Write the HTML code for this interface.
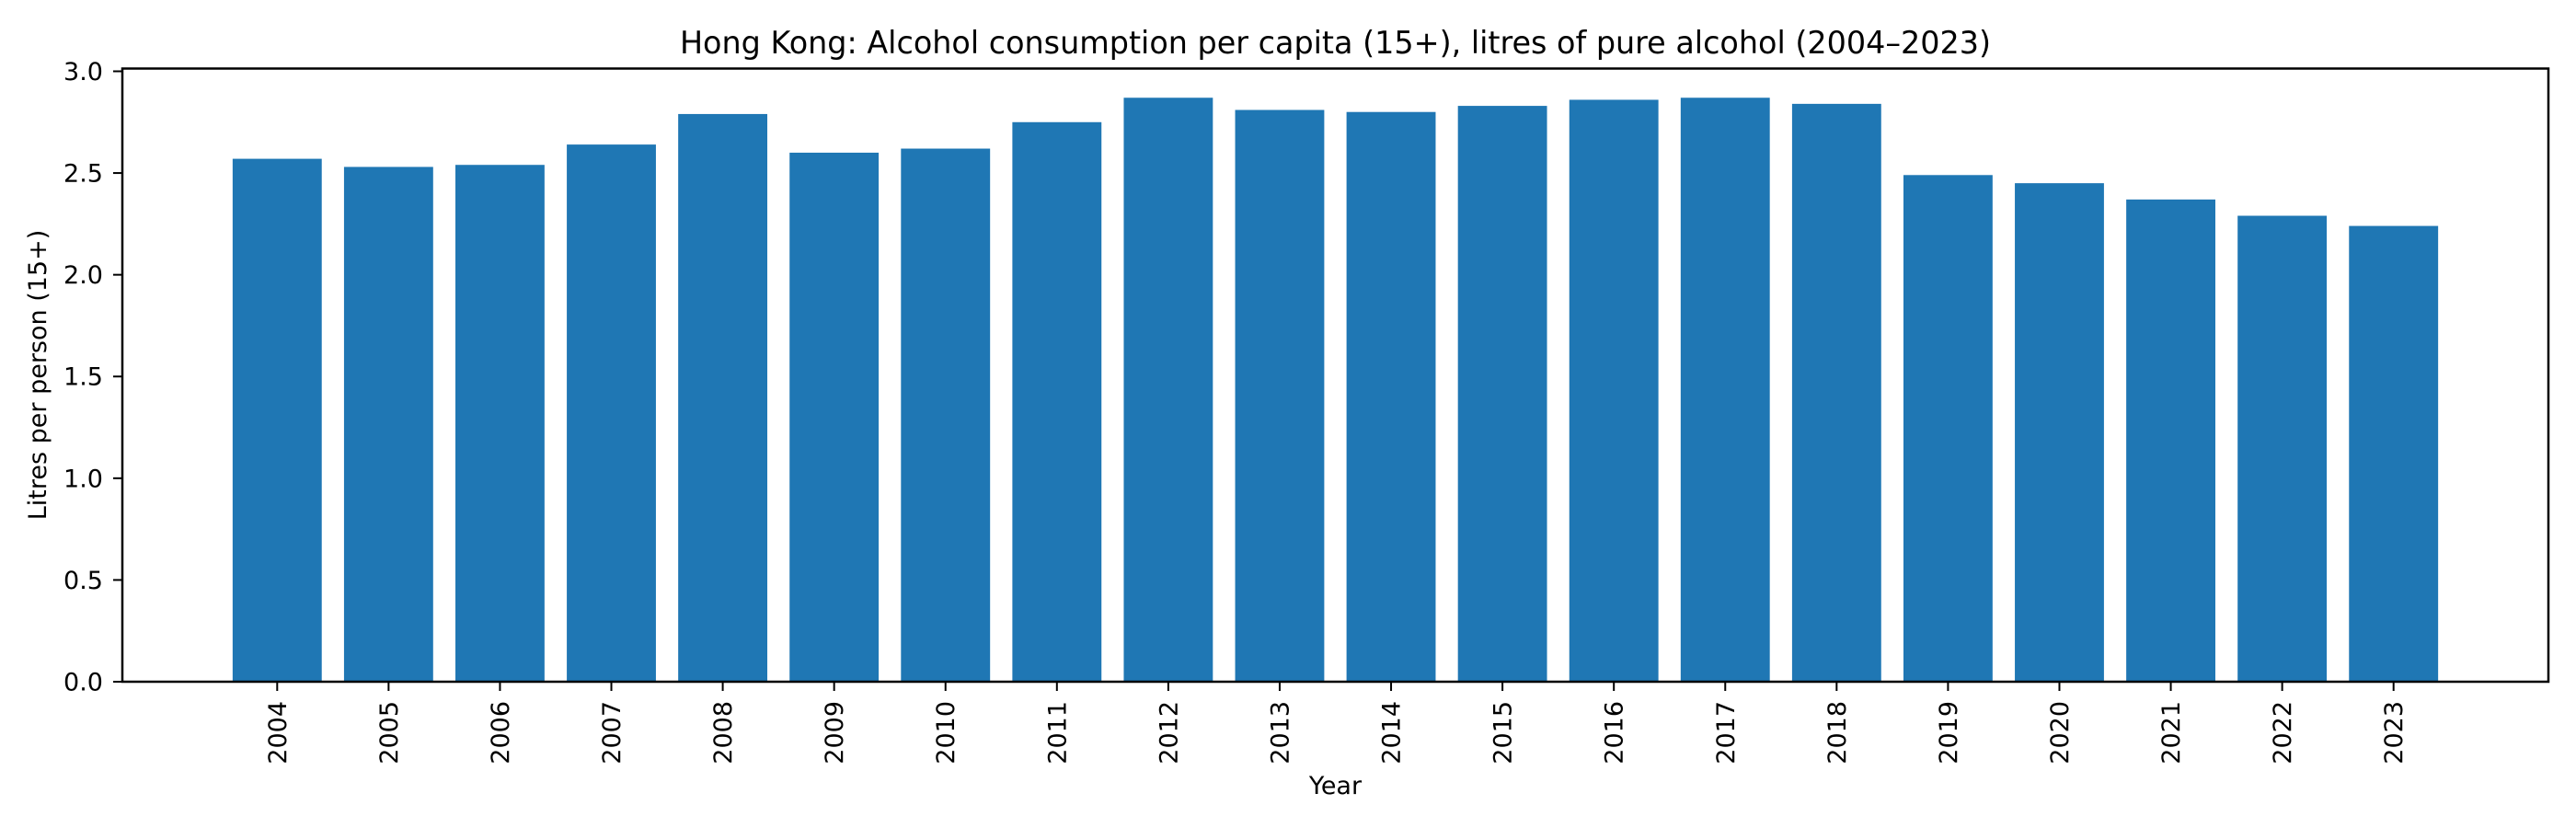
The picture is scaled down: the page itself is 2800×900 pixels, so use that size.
<!DOCTYPE html>
<html><head><meta charset="utf-8"><style>
html,body{margin:0;padding:0;background:#fff;}
svg{display:block;font-family:"DejaVu Sans","Liberation Sans",sans-serif;}
</style></head><body>
<svg id="chart" width="2800" height="900" viewBox="0 0 2800 900">
<text x="1451.5" y="58" font-size="33.4" text-anchor="middle">Hong Kong: Alcohol consumption per capita (15+), litres of pure alcohol (2004–2023)</text>
<g id="bars"></g>
<g id="yticks"></g>
<g id="xticks"></g>
<rect x="133" y="74.5" width="2637" height="666.5" fill="none" stroke="#000" stroke-width="2.5"/>
<text x="1451.5" y="863" font-size="27" text-anchor="middle">Year</text>
<text transform="translate(50,407.5) rotate(-90)" font-size="27" text-anchor="middle">Litres per person (15+)</text>
</svg>
<script>
const years = ["2004","2005","2006","2007","2008","2009","2010","2011","2012","2013","2014","2015","2016","2017","2018","2019","2020","2021","2022","2023"];
const values = [2.57,2.53,2.54,2.64,2.79,2.60,2.62,2.75,2.87,2.81,2.80,2.83,2.86,2.87,2.84,2.49,2.45,2.37,2.29,2.24];
const yTickValues = [0,0.5,1.0,1.5,2.0,2.5,3.0];
const yTickLabels = ["0.0","0.5","1.0","1.5","2.0","2.5","3.0"];

const NS = "http://www.w3.org/2000/svg";
const L = 133, R = 2770, T = 74.5, B = 741;
const n = years.length;
const xmin = -0.4 - 0.05 * (n - 1 + 0.8), xmax = n - 1 + 0.4 + 0.05 * (n - 1 + 0.8);
const ymax = Math.max(...values) * 1.05;
function xs(i) { return L + (i - xmin) / (xmax - xmin) * (R - L); }
function ys(v) { return B - v / ymax * (B - T); }

const bars = document.getElementById('bars');
values.forEach((v, i) => {
  const r = document.createElementNS(NS, 'rect');
  const x0 = xs(i - 0.4), x1 = xs(i + 0.4);
  r.setAttribute('x', x0);
  r.setAttribute('width', x1 - x0);
  r.setAttribute('y', ys(v));
  r.setAttribute('height', B - ys(v));
  r.setAttribute('fill', '#1f77b4');
  
  
  bars.appendChild(r);
});

const yt = document.getElementById('yticks');
yTickValues.forEach((v, i) => {
  const y = ys(v);
  const ln = document.createElementNS(NS, 'line');
  ln.setAttribute('x1', L - 10); ln.setAttribute('x2', L);
  ln.setAttribute('y1', y); ln.setAttribute('y2', y);
  ln.setAttribute('stroke', '#000'); ln.setAttribute('stroke-width', '2');
  
  
  yt.appendChild(ln);
  const t = document.createElementNS(NS, 'text');
  t.setAttribute('x', L - 21); t.setAttribute('y', y + 9.5);
  t.setAttribute('font-size', '27'); t.setAttribute('text-anchor', 'end');
  t.textContent = yTickLabels[i];
  
  
  yt.appendChild(t);
});

const xt = document.getElementById('xticks');
years.forEach((yr, i) => {
  const x = xs(i);
  const ln = document.createElementNS(NS, 'line');
  ln.setAttribute('x1', x); ln.setAttribute('x2', x);
  ln.setAttribute('y1', B); ln.setAttribute('y2', B + 10);
  ln.setAttribute('stroke', '#000'); ln.setAttribute('stroke-width', '2');
  
  
  xt.appendChild(ln);
  const t = document.createElementNS(NS, 'text');
  t.setAttribute('transform', 'translate(' + (x + 9.5) + ',' + (B + 21) + ') rotate(-90)');
  t.setAttribute('font-size', '27'); t.setAttribute('text-anchor', 'end');
  t.textContent = yr;
  
  
  xt.appendChild(t);
});
</script>
</body></html>
